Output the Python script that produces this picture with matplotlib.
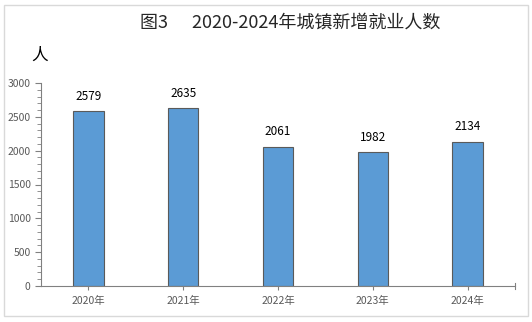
import matplotlib.pyplot as plt
from matplotlib.patches import Rectangle
import numpy as np

plt.rcParams['font.family'] = ['Noto Sans CJK SC', 'DejaVu Sans']

years = ['2020年', '2021年', '2022年', '2023年', '2024年']
values = [2579, 2635, 2061, 1982, 2134]

fig = plt.figure(figsize=(5.32, 3.22), dpi=100)
# 外框
fig.patches.append(Rectangle((4/532, 6/322), 524/532, 311/322, transform=fig.transFigure,
                             fill=False, edgecolor='#d9d9d9', linewidth=1))

ax = fig.add_axes([41/532, 1-286/322, 474/532, 203/322])
x = np.arange(len(years))
ax.bar(x, values, width=0.32, color='#5b9bd5', edgecolor='#5a5a5a', linewidth=0.8, zorder=2)
for xi, v in zip(x, values):
    ax.text(xi, v + 120, str(v), ha='center', va='bottom', fontsize=8.5, color='black')

ax.set_xlim(-0.5, 4.5)
ax.set_ylim(0, 3000)
ax.set_yticks(np.arange(0, 3001, 500))
ax.set_yticks(np.arange(0, 3001, 100), minor=True)
ax.set_xticks(x)
ax.set_xticklabels(years)
for s in ['top', 'right']:
    ax.spines[s].set_visible(False)
for s in ['left', 'bottom']:
    ax.spines[s].set_color('#808080')
ax.tick_params(axis='y', which='both', direction='out', color='#808080',
               labelsize=7.5, labelcolor='#595959')
ax.tick_params(axis='y', which='major', length=4)
ax.tick_params(axis='y', which='minor', length=3)
ax.tick_params(axis='x', direction='inout', length=6, color='#808080',
               labelsize=7.5, labelcolor='#595959', pad=4)
ax.axvline(4.5, ymin=-0.015, ymax=0.015, color='#808080', linewidth=0.8, clip_on=False)

fig.text(290/532, 1-23/322, '图3      2020-2024年城镇新增就业人数', ha='center', va='center',
         fontsize=13, color='#262626')
fig.text(40/532, 1-55/322, '人', ha='center', va='center', fontsize=12, color='black')

fig.savefig('out.png', dpi=100)
